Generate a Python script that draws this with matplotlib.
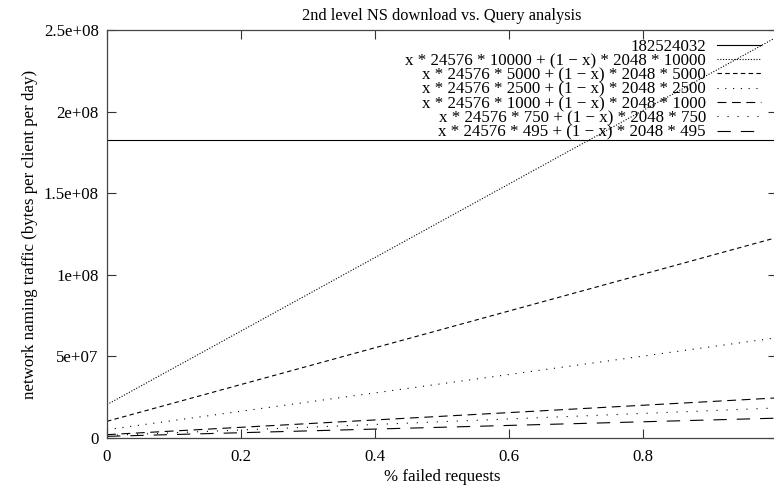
import numpy as np
import matplotlib.pyplot as plt

plt.rcParams['font.family'] = ['Liberation Serif', 'DejaVu Serif']

# fraction of failed requests (lines are straight, end points are enough)
failed = [0.0, 1.0]

# bytes per client per day, read at x=0 and x=1
threshold = 182524032
series_labels = [
    "x * 24576 * 10000 + (1 \u2212 x) * 2048 * 10000",
    "x * 24576 * 5000 + (1 \u2212 x) * 2048 * 5000",
    "x * 24576 * 2500 + (1 \u2212 x) * 2048 * 2500",
    "x * 24576 * 1000 + (1 \u2212 x) * 2048 * 1000",
    "x * 24576 * 750 + (1 \u2212 x) * 2048 * 750",
    "x * 24576 * 495 + (1 \u2212 x) * 2048 * 495",
]
traffic_10000 = [2.048e7, 2.4576e8]
traffic_5000 = [1.024e7, 1.2288e8]
traffic_2500 = [5.12e6, 6.144e7]
traffic_1000 = [2.048e6, 2.4576e7]
traffic_750 = [1.536e6, 1.8432e7]
traffic_495 = [1.01376e6, 1.216512e7]

x_ticks = [0, 0.2, 0.4, 0.6, 0.8, 1.0]
x_tick_labels = ["0", "0.2", "0.4", "0.6", "0.8", "1"]
y_ticks = [0, 5e7, 1e8, 1.5e8, 2e8, 2.5e8]
y_tick_labels = ["0", "5e+07", "1e+08", "1.5e+08", "2e+08", "2.5e+08"]

W, H = 774, 494
fig = plt.figure(figsize=(W / 100, H / 100), dpi=100)
ax = fig.add_axes([107 / W, (H - 438) / H, (777 - 107) / W, (438 - 30) / H])

lw = 0.8
ax.axhline(threshold, color='black', lw=lw, label=str(threshold))
styles = [
    (0, (1, 1.5)),
    (0, (4, 3)),
    (0, (1, 6)),
    (0, (8, 5)),
    (0, (1, 8)),
    (0, (12, 9)),
]
all_series = [traffic_10000, traffic_5000, traffic_2500,
              traffic_1000, traffic_750, traffic_495]
for vals, lab, ls in zip(all_series, series_labels, styles):
    ax.plot(failed, vals, color='black', lw=lw, linestyle=ls, label=lab)

fs = 12.2
ax.set_xlim(0, 1)
ax.set_ylim(0, 2.5e8)
ax.set_xticks(x_ticks)
ax.set_xticklabels(x_tick_labels)
ax.set_yticks(y_ticks)
ax.set_yticklabels(y_tick_labels)
ax.tick_params(direction='in', length=6.5, width=0.8, top=True, right=True,
               labelsize=fs, colors='#333333', labelcolor='black')
ax.tick_params(axis='x', pad=8)
ax.tick_params(axis='y', pad=6)
for s in ax.spines.values():
    s.set_linewidth(0.9)
    s.set_color('#444444')

ax.set_title("2nd level NS download vs. Query analysis", fontsize=11.8, pad=7)
ax.set_xlabel("% failed requests", fontsize=fs, labelpad=3)
ax.set_ylabel("network naming traffic (bytes per client per day)", fontsize=fs, labelpad=4)

ax.legend(loc='upper right', bbox_to_anchor=(0.986, 0.995), frameon=False,
          markerfirst=False, fontsize=fs, handlelength=2.6, handletextpad=0.65,
          labelspacing=-0.1, borderaxespad=0)

fig.savefig("out.png", dpi=100)
